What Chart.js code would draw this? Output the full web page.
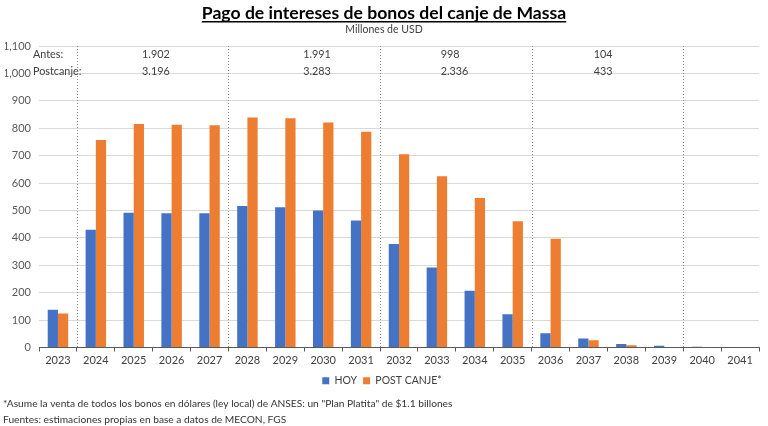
<!DOCTYPE html>
<html>
<head>
<meta charset="utf-8">
<script src="https://cdn.jsdelivr.net/npm/chart.js@4"></script>
<style>
    html, body { margin: 0; padding: 0; background: #ffffff; }
    #chart-box { position: relative; width: 768px; height: 426px; }
</style>
</head>
<body>
<div id="chart-box"><canvas id="bonos-chart"></canvas></div>
<script>
// 年（カテゴリ）
const years = ['2023', '2024', '2025', '2026', '2027', '2028', '2029', '2030', '2031', '2032',
    '2033', '2034', '2035', '2036', '2037', '2038', '2039', '2040', '2041'];

// 利払い（百万USD）
const hoyValues = [138, 430, 492, 490, 490, 516, 512, 500, 463, 378, 292, 207, 121, 52, 33, 13, 6, 3, 1];
const postCanjeValues = [124, 757, 815, 813, 811, 839, 836, 821, 787, 705, 625, 545, 461, 397, 26, 8, 2, 1, 0];

// 期間ごとの合計（表示用テキスト）
const groupStartIndexes = [1, 5, 9, 13, 17];
const antesTotals = ['1.902', '1.991', '998', '104'];
const postcanjeTotals = ['3.196', '3.283', '2.336', '433'];

// テキスト類
const titleText = 'Pago de intereses de bonos del canje de Massa';
const subtitleText = 'Millones de USD';
const footnotes = [
    '*Asume la venta de todos los bonos en dólares (ley local) de ANSES: un "Plan Platita" de $1.1 billones',
    'Fuentes: estimaciones propias en base a datos de MECON, FGS'
];

const FONT = 'Lato, "Noto Sans", sans-serif';
const BLUE = '#4472C4';
const ORANGE = '#ED7D31';

/**
 * タイトル・区切り線・合計・注記を描画するプラグイン
 */
const decorPlugin = {
    id: 'decor',
    beforeDatasetsDraw(chart, args, opts) {
        const { ctx, chartArea, scales } = chart;
        const x = scales.x;

        // 期間の区切り（点線）
        ctx.save();
        ctx.strokeStyle = '#8c8c8c';
        ctx.lineWidth = 1;
        ctx.setLineDash([1, 2]);
        groupStartIndexes.forEach(i => {
            const px = Math.round(x.getPixelForValue(i - 0.5)) + 0.5;
            ctx.beginPath();
            ctx.moveTo(px, chartArea.top);
            ctx.lineTo(px, chartArea.bottom);
            ctx.stroke();
        });
        ctx.restore();
    },
    afterDraw(chart, args, opts) {
        const { ctx, chartArea, scales } = chart;
        const x = scales.x;
        const y = scales.y;
        ctx.save();

        // タイトル（下線付き）
        ctx.fillStyle = '#000000';
        ctx.textAlign = 'center';
        ctx.textBaseline = 'alphabetic';
        ctx.font = `bold 17.6px ${FONT}`;
        const cx = 384;
        ctx.fillText(titleText, cx, 19);
        const w = ctx.measureText(titleText).width;
        ctx.fillRect(cx - w / 2, 21, w, 1.5);

        ctx.font = `10.5px ${FONT}`;
        ctx.fillStyle = '#404040';
        ctx.fillText(subtitleText, cx, 33);

        // Antes / Postcanje の合計
        const rowAntes = y.getPixelForValue(1100) + 9;
        const rowPost = y.getPixelForValue(1000) - 2;
        ctx.font = `10.8px ${FONT}`;
        ctx.fillStyle = '#404040';
        ctx.textBaseline = 'middle';
        ctx.textAlign = 'left';
        ctx.fillText('Antes:', chartArea.left - 6, rowAntes);
        ctx.fillText('Postcanje:', chartArea.left - 6, rowPost);
        opts.totalPositions.forEach((pos, i) => {
            const px = x.getPixelForValue(pos);
            ctx.fillText(antesTotals[i], px, rowAntes);
            ctx.fillText(postcanjeTotals[i], px, rowPost);
        });

        // 注記
        ctx.font = `10.2px ${FONT}`;
        ctx.fillStyle = '#333333';
        ctx.textBaseline = 'middle';
        ctx.fillText(footnotes[0], 3, 404);
        ctx.fillText(footnotes[1], 3, 420);
        ctx.restore();
    }
};

const chart = new Chart(document.getElementById('bonos-chart'), {
    type: 'bar',
    data: {
        labels: years,
        datasets: [
            {
                label: 'HOY',
                data: hoyValues,
                backgroundColor: BLUE,
                categoryPercentage: 0.54,
                barPercentage: 1.0
            },
            {
                label: 'POST CANJE*',
                data: postCanjeValues,
                backgroundColor: ORANGE,
                categoryPercentage: 0.54,
                barPercentage: 1.0
            }
        ]
    },
    options: {
        responsive: true,
        maintainAspectRatio: false,
        animation: false,
        layout: { padding: { top: 46, left: 5, right: 9, bottom: 30 } },
        plugins: {
            title: { display: false },
            tooltip: { enabled: false },
            legend: {
                position: 'bottom',
                labels: {
                    boxWidth: 7, boxHeight: 7, padding: 6,
                    color: '#404040',
                    font: { family: FONT, size: 10.5 }
                }
            },
            decor: { totalPositions: [2.22, 6.47, 10.1, 14.14] }
        },
        scales: {
            x: {
                grid: { offset: true, drawOnChartArea: false, drawTicks: true, tickLength: 4, color: '#595959' },
                border: { display: true, color: '#595959', width: 1 },
                ticks: { color: '#404040', font: { family: FONT, size: 11 }, padding: 2, maxRotation: 0 },
                afterFit(scale) { scale.height = 22; }
            },
            y: {
                min: 0,
                max: 1100,
                ticks: { stepSize: 100, color: '#595959', font: { family: FONT, size: 11 }, padding: 8 },
                grid: { color: '#d9d9d9', drawTicks: false },
                border: { display: false },
                afterFit(scale) { scale.width = 34; }
            }
        }
    },
    plugins: [decorPlugin]
});
</script>
</body>
</html>
